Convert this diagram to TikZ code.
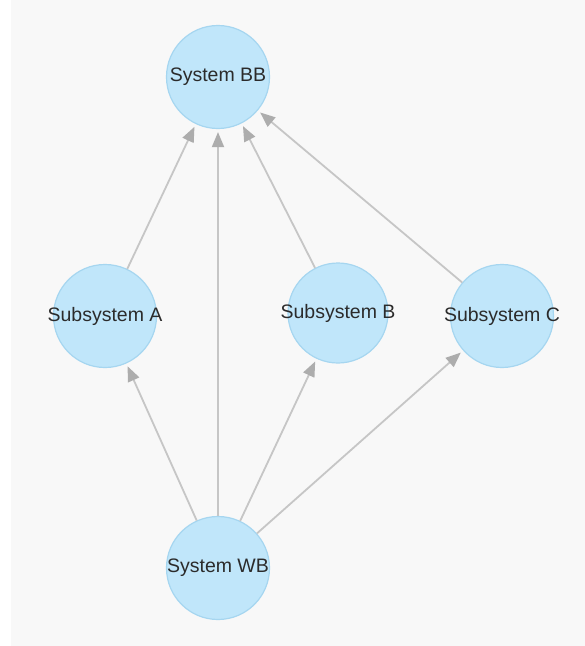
\documentclass[tikz,border=0pt]{standalone}
\usepackage{fontspec}
\setmainfont{Liberation Sans}
\usetikzlibrary{arrows.meta}
\definecolor{panelbg}{HTML}{F8F8F8}
\definecolor{nodefill}{HTML}{C0E6FA}
\definecolor{nodeline}{HTML}{A6D6F0}
\definecolor{edgecol}{HTML}{C6C6C6}
\definecolor{tipcol}{HTML}{ADADAD}
\definecolor{labelcol}{HTML}{2B2B2B}
% labels may spill past the circle, so their width does not size it
\newcommand{\nodelabel}[1]{\makebox[0pt][c]{#1}}
\tikzset{
  sysnode/.style={circle, draw=nodeline, line width=1.2pt, fill=nodefill,
    minimum size=103pt, inner sep=0pt, text=labelcol,
    font=\fontsize{19.5}{22}\selectfont},
  link/.style={draw=edgecol, line width=1.8pt, shorten >=3pt,
    -{Triangle[length=15pt,width=12pt,color=tipcol,fill=tipcol]}}
}
\begin{document}
\begin{tikzpicture}[x=1pt,y=-1pt]
  \useasboundingbox (0,0) rectangle (585,646);
  \fill[panelbg] (11,0) rectangle (585,646);

  \node[sysnode] (bb) at (218,77) {\nodelabel{System BB}};
  \node[sysnode] (sa) at (105,316) {\nodelabel{Subsystem A}};
  \node[sysnode,minimum size=100pt] (sb) at (338,313) {\nodelabel{Subsystem B}};
  \node[sysnode] (sc) at (502,316) {\nodelabel{Subsystem C}};
  \node[sysnode] (wb) at (218,568) {\nodelabel{System WB}};

  \draw[link] (sa) -- (bb);
  \draw[link] (sb) -- (bb);
  \draw[link] (sc) -- (bb);
  \draw[link] (wb) -- (bb);
  \draw[link] (wb) -- (sa);
  \draw[link] (wb) -- (sb);
  \draw[link] (wb) -- (sc);
\end{tikzpicture}
\end{document}
